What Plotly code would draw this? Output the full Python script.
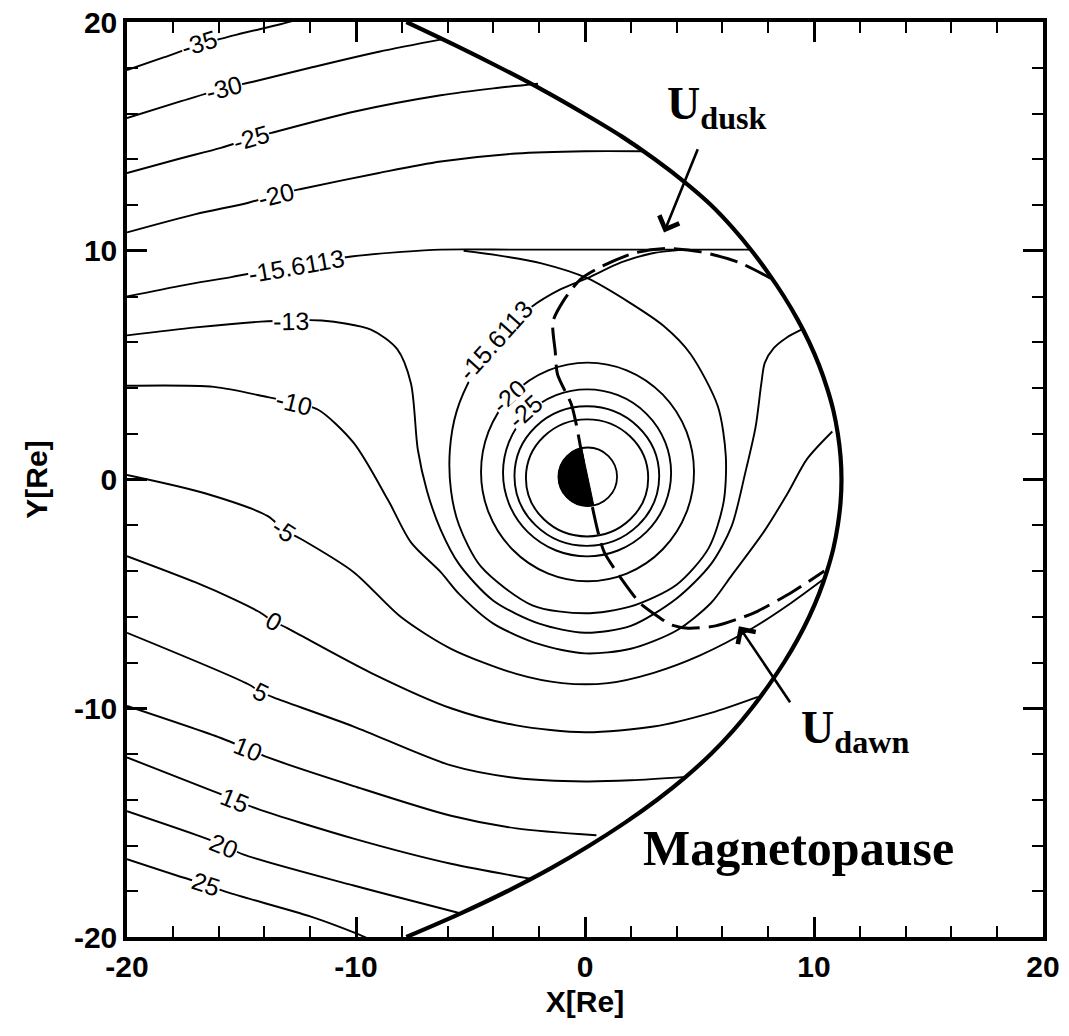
import math
import plotly.graph_objects as go

# ---------------- equipotential contours (kV), paths in Earth radii ----------------
M35_X = [-20, -18.4, -16.85, -15.2, -13.3, -12.4]
M35_Y = [17.9, 18.45, 19.0, 19.45, 19.9, 20.15]

M30_X = [-20, -17.6, -15.75, -14.45, -12.0, -9.0, -6.2]
M30_Y = [15.8, 16.55, 17.1, 17.4, 18.0, 18.7, 19.25]

M25_X = [-20, -17.8, -15.9, -14.6, -13.7, -10.0, -6.3, -4.0, -2.05]
M25_Y = [13.4, 14.0, 14.5, 14.9, 15.15, 16.1, 16.8, 17.1, 17.3]

M20_X = [-20, -17.0, -14.7, -13.5, -12.4, -9.0, -6.3, -3.0, 0.0, 2.5]
M20_Y = [10.8, 11.6, 12.1, 12.45, 12.7, 13.4, 13.9, 14.25, 14.35, 14.35]

# separatrix (-15.6113 kV): open branch and the closed loop through the stagnation point
SEP_OPEN_X = [-20, -17.5, -15.45, -12.6, -10.2, -8.0, -6.3, -3.0, 0.0, 3.5, 7.3]
SEP_OPEN_Y = [8.0, 8.5, 8.85, 9.4, 9.75, 9.95, 10.05, 10.05, 10.05, 10.05, 10.05]

SEP_LOOP_X = [-5.3, -3.8, -1.9, 0.1, 2.0, 3.45, 4.6, 5.8, 6.15, 6.05, 5.4, 4.0, 2.0, 0.0,
              -2.3, -4.55, -5.5, -5.85, -5.9, -5.6, -4.9, -3.9, -2.4, -1.1, 0.1, 1.6, 3.0, 4.3]
SEP_LOOP_Y = [10.0, 9.8, 9.45, 8.8, 7.7, 6.7, 5.5, 3.2, 1.0, -1.0, -3.0, -4.6, -5.55, -5.85,
              -5.5, -3.8, -2.0, -0.5, 1.3, 3.0, 4.6, 6.1, 7.5, 8.3, 8.8, 9.5, 9.9, 10.05]

M13_X = [-20, -17.0, -14.15, -12.85, -11.5, -9.35, -8.2, -7.6, -7.3, -6.9, -6.3, -5.5, -4.0,
         -2.0, 0.0, 2.0, 4.0, 5.5, 6.4, 7.0, 7.45, 7.7, 7.85, 8.25, 8.8, 9.45]
M13_Y = [6.3, 6.65, 6.9, 6.95, 6.95, 6.55, 5.7, 4.2, 1.3, -0.5, -2.2, -3.7, -5.3,
         -6.3, -6.7, -6.4, -5.2, -3.7, -2.05, 0.3, 2.3, 4.2, 5.1, 5.75, 6.2, 6.55]

M10_X = [-20, -16.2, -13.85, -12.7, -11.65, -10.1, -8.6, -7.6, -6.3, -5.5, -4.0, -2.0, 0.0,
         2.0, 4.0, 5.5, 6.4, 7.8, 8.85, 9.7, 10.8]
M10_Y = [4.1, 4.05, 3.6, 3.35, 3.05, 1.6, -0.9, -2.75, -4.05, -5.0, -6.3, -7.2, -7.6,
         -7.4, -6.6, -5.4, -4.2, -2.3, -0.6, 0.9, 2.1]

M5_X = [-20, -16.6, -13.85, -13.15, -12.4, -10.1, -8.05, -5.85, -3.0, -1.0, 1.0, 3.0, 5.0,
        7.4, 9.0, 10.5]
M5_Y = [0.2, -0.6, -1.6, -2.2, -2.6, -4.05, -6.0, -7.4, -8.5, -8.9, -8.9, -8.45, -7.7,
        -6.45, -5.4, -4.3]

P0_X = [-20, -17.0, -15.3, -14.3, -13.6, -13.0, -9.35, -5.85, -3.0, 0.0, 3.0, 5.5, 7.55]
P0_Y = [-3.35, -4.5, -5.25, -5.75, -6.2, -6.5, -8.45, -10.0, -10.75, -11.05, -10.8, -10.2, -9.5]

P5_X = [-20, -14.7, -14.15, -13.4, -10.1, -5.85, -3.0, 0.0, 2.0, 4.4]
P5_Y = [-6.7, -8.95, -9.3, -9.6, -10.8, -12.5, -13.05, -13.2, -13.15, -13.0]

P10_X = [-20, -15.9, -14.7, -13.85, -10.1, -5.85, -3.0, 0.5]
P10_Y = [-9.9, -11.3, -11.8, -12.15, -13.4, -14.7, -15.25, -15.55]

P15_X = [-20, -16.3, -15.3, -14.3, -10.1, -5.85, -2.4]
P15_Y = [-12.15, -13.6, -14.0, -14.4, -15.7, -16.8, -17.45]

P20_X = [-20, -16.8, -15.75, -14.9, -10.1, -5.5]
P20_Y = [-14.5, -15.6, -16.0, -16.4, -17.75, -18.95]

P25_X = [-20, -17.55, -16.55, -15.6, -12.0, -10.1, -9.4]
P25_Y = [-16.6, -17.4, -17.7, -18.05, -19.1, -19.8, -20.1]

# closed corotation-dominated rings around Earth (-35, -30, -25, -20 kV)
RING_CX = [0.09, 0.08, 0.09, 0.11]
RING_CY = [0.07, 0.15, 0.29, 0.33]
RING_RX = [2.67, 3.16, 3.67, 4.65]
RING_RY = [2.56, 3.05, 3.65, 4.78]

# magnetopause boundary
MP_Y = [20, 19, 18, 17, 16, 15, 14, 13, 12, 11, 10, 9, 8, 7, 6, 5, 4, 3, 2, 1, 0,
        -1, -2, -3, -4, -5, -6, -7, -8, -9, -10, -11, -12, -13, -14, -15, -16, -17,
        -18, -19, -20]
MP_X = [-7.8, -5.7, -3.7, -1.8, -0.05, 1.6, 3.05, 4.35, 5.5, 6.45, 7.28, 8.02, 8.69,
        9.28, 9.79, 10.22, 10.57, 10.85, 11.04, 11.16, 11.2, 11.16, 11.04, 10.85, 10.57,
        10.22, 9.79, 9.28, 8.69, 8.02, 7.28, 6.45, 5.5, 4.4, 3.15, 1.75, 0.2, -1.5,
        -3.4, -5.5, -7.8]

# dusk-to-dawn dashed path (U_dusk ... U_dawn)
U_X = [8.1, 6.7, 5.05, 3.6, 2.15, 0.7, -0.2, -0.95, -1.4, -1.3, -1.2, -0.6, -0.4, 0.05,
       0.57, 0.85, 1.7, 2.4, 3.2, 3.75, 4.5, 5.7, 6.95, 7.55, 9.0, 10.45]
U_Y = [8.8, 9.5, 9.95, 10.1, 9.9, 9.3, 8.75, 7.8, 6.9, 5.6, 4.6, 3.3, 2.5, 0.1,
       -2.3, -3.2, -4.5, -5.4, -6.0, -6.35, -6.5, -6.4, -6.0, -5.75, -4.95, -4.0]

# Earth disc
EARTH_X, EARTH_Y, EARTH_R = 0.12, 0.12, 1.28
TERMINATOR_TILT_DEG = 12.0

# contour labels
LABEL_TEXT = ["-35", "-30", "-25", "-20", "-15.6113", "-13", "-10", "-5", "0", "5",
              "10", "15", "20", "25", "-15.6113", "-20", "-25"]
LABEL_X = [-16.85, -15.75, -14.6, -13.5, -12.6, -12.85, -12.7, -13.15, -13.6, -14.15,
           -14.7, -15.3, -15.75, -16.55, -3.9, -3.3, -2.6]
LABEL_Y = [19.1, 17.1, 14.95, 12.45, 9.35, 6.95, 3.35, -2.2, -6.2, -9.3,
           -11.8, -14.0, -16.0, -17.7, 6.1, 3.65, 3.0]
LABEL_ANGLE = [-17, -15, -16, -14, -10, -1, 14, 33, 29, 26,
               22, 22, 22, 19, -48, -42, -42]

TICK_VALS = [-20, -10, 0, 10, 20]
TICK_TEXT = ["-20", "-10", "0", "10", "20"]

SANS = "Liberation Sans, Arial, sans-serif"
SERIF = "Liberation Serif, Times New Roman, serif"

fig = go.Figure()

open_lines = [
    (M35_X, M35_Y), (M30_X, M30_Y), (M25_X, M25_Y), (M20_X, M20_Y),
    (SEP_OPEN_X, SEP_OPEN_Y), (SEP_LOOP_X, SEP_LOOP_Y),
    (M13_X, M13_Y), (M10_X, M10_Y), (M5_X, M5_Y),
    (P0_X, P0_Y), (P5_X, P5_Y), (P10_X, P10_Y), (P15_X, P15_Y),
    (P20_X, P20_Y), (P25_X, P25_Y),
]
for xs, ys in open_lines:
    fig.add_trace(go.Scatter(
        x=xs, y=ys, mode="lines",
        line=dict(color="black", width=1.9, shape="spline", smoothing=0.8),
        hoverinfo="skip", showlegend=False,
    ))

# magnetopause
fig.add_trace(go.Scatter(
    x=MP_X, y=MP_Y, mode="lines",
    line=dict(color="black", width=4.2, shape="spline", smoothing=1.0),
    hoverinfo="skip", showlegend=False,
))

# dashed flow path
fig.add_trace(go.Scatter(
    x=U_X, y=U_Y, mode="lines",
    line=dict(color="black", width=3, dash="28px,9px", shape="spline", smoothing=0.7),
    hoverinfo="skip", showlegend=False,
))

shapes = []
for cx, cy, rx, ry in zip(RING_CX, RING_CY, RING_RX, RING_RY):
    shapes.append(dict(type="circle", xref="x", yref="y", layer="below",
                       x0=cx - rx, x1=cx + rx, y0=cy - ry, y1=cy + ry,
                       line=dict(color="black", width=1.9)))

# Earth: white disc, night half filled black
shapes.append(dict(type="circle", xref="x", yref="y", layer="below",
                   x0=EARTH_X - EARTH_R, x1=EARTH_X + EARTH_R,
                   y0=EARTH_Y - EARTH_R, y1=EARTH_Y + EARTH_R,
                   fillcolor="white", line=dict(color="black", width=1.8)))
t = math.radians(TERMINATOR_TILT_DEG)
ux, uy = -math.sin(t), math.cos(t)
nx, ny = -math.cos(t), -math.sin(t)
R = EARTH_R
k = 0.5523 * R
Tp = (EARTH_X + R * ux, EARTH_Y + R * uy)
Lp = (EARTH_X + R * nx, EARTH_Y + R * ny)
Bp = (EARTH_X - R * ux, EARTH_Y - R * uy)
c1 = (Tp[0] + k * nx, Tp[1] + k * ny)
c2 = (Lp[0] + k * ux, Lp[1] + k * uy)
c3 = (Lp[0] - k * ux, Lp[1] - k * uy)
c4 = (Bp[0] + k * nx, Bp[1] + k * ny)
half = ("M {0[0]},{0[1]} C {1[0]},{1[1]} {2[0]},{2[1]} {3[0]},{3[1]} "
        "C {4[0]},{4[1]} {5[0]},{5[1]} {6[0]},{6[1]} Z").format(Tp, c1, c2, Lp, c3, c4, Bp)
shapes.append(dict(type="path", xref="x", yref="y", layer="below", path=half,
                   fillcolor="black", line=dict(color="black", width=1)))

annotations = []
for txt, lx, ly, ang in zip(LABEL_TEXT, LABEL_X, LABEL_Y, LABEL_ANGLE):
    annotations.append(dict(x=lx, y=ly, xref="x", yref="y", text=txt, showarrow=False,
                            textangle=ang, bgcolor="white", borderpad=0,
                            font=dict(family=SANS, size=25, color="black")))

# region names and pointers
annotations.append(dict(x=3.5, y=16.3, xref="x", yref="y", xanchor="left", yanchor="middle",
                        text="U<sub>dusk</sub>", showarrow=False,
                        font=dict(family=SERIF, size=46, color="black", weight="bold")))
annotations.append(dict(x=3.45, y=10.8, ax=4.95, ay=14.5, xref="x", yref="y",
                        axref="x", ayref="y", text="", showarrow=True,
                        arrowhead=4, arrowsize=1.6, arrowwidth=2.6, arrowcolor="black"))
annotations.append(dict(x=9.35, y=-11.0, xref="x", yref="y", xanchor="left", yanchor="middle",
                        text="U<sub>dawn</sub>", showarrow=False,
                        font=dict(family=SERIF, size=46, color="black", weight="bold")))
annotations.append(dict(x=6.72, y=-6.42, ax=9.0, ay=-9.8, xref="x", yref="y",
                        axref="x", ayref="y", text="", showarrow=True,
                        arrowhead=4, arrowsize=1.6, arrowwidth=2.6, arrowcolor="black"))
annotations.append(dict(x=2.45, y=-16.1, xref="x", yref="y", xanchor="left", yanchor="middle",
                        text="Magnetopause", showarrow=False,
                        font=dict(family=SERIF, size=50, color="black", weight="bold")))

axis_common = dict(
    range=[-20, 20], tickmode="array", tickvals=TICK_VALS, ticktext=TICK_TEXT,
    ticks="inside", ticklen=20, tickwidth=3, tickcolor="black",
    showline=True, linewidth=3.5, linecolor="black", mirror="ticks",
    showgrid=False, zeroline=False,
    tickfont=dict(family=SANS, size=30, color="black", weight="bold"),
    minor=dict(tickmode="linear", tick0=-20, dtick=2, ticks="inside", ticklen=11,
               tickwidth=2, tickcolor="black", showgrid=False),
)

fig.update_layout(
    width=1069, height=1036,
    margin=dict(l=127, r=26, t=22, b=99),
    paper_bgcolor="white", plot_bgcolor="white",
    template="none",
    showlegend=False,
    shapes=shapes,
    annotations=annotations,
    xaxis=dict(**axis_common,
               title=dict(text="X[Re]", standoff=10,
                          font=dict(family=SANS, size=30, color="black", weight="bold"))),
    yaxis=dict(**axis_common,
               title=dict(text="Y[Re]", standoff=18,
                          font=dict(family=SANS, size=30, color="black", weight="bold"))),
)

fig.write_html("out.html")
